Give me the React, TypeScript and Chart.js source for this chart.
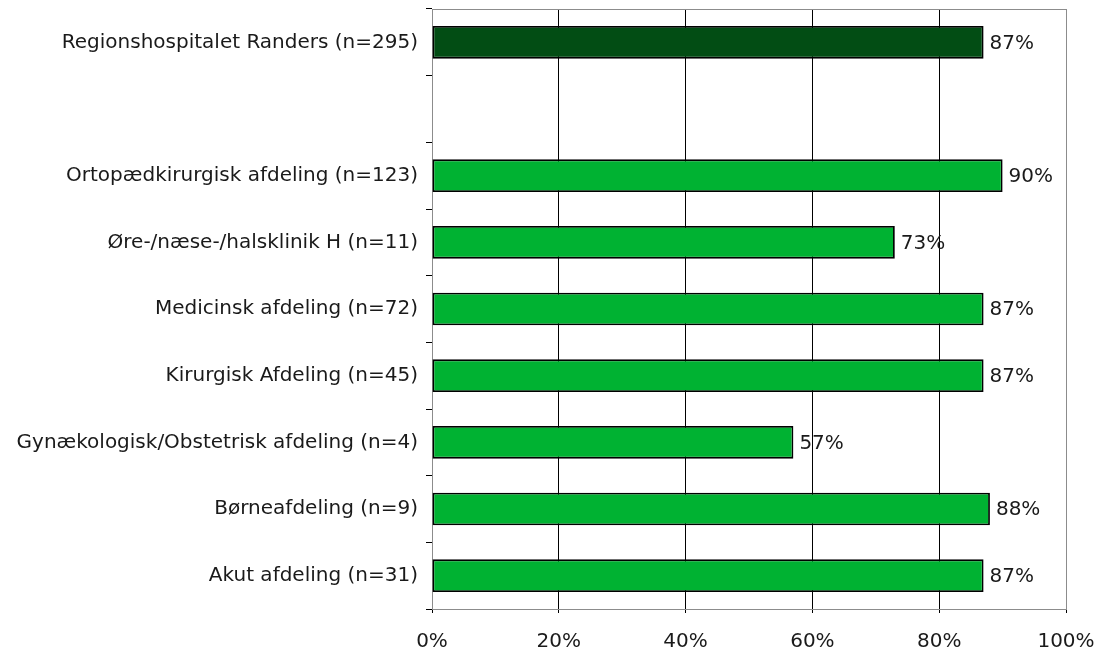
import React, { useEffect, useRef } from "react";
import { Chart, registerables } from "chart.js";

Chart.register(...registerables);

const categories = [
  "Regionshospitalet Randers (n=295)",
  "",
  "Ortopædkirurgisk afdeling (n=123)",
  "Øre-/næse-/halsklinik H (n=11)",
  "Medicinsk afdeling (n=72)",
  "Kirurgisk Afdeling (n=45)",
  "Gynækologisk/Obstetrisk afdeling (n=4)",
  "Børneafdeling (n=9)",
  "Akut afdeling (n=31)",
];
const values: (number | null)[] = [87, null, 90, 73, 87, 87, 57, 88, 87];
const valueLabels = ["87%", "", "90%", "73%", "87%", "87%", "57%", "88%", "87%"];
const barColors = ["#024d14", "", "#00b232", "#00b232", "#00b232", "#00b232", "#00b232", "#00b232", "#00b232"];
const xTicks = [0, 20, 40, 60, 80, 100];

const FONT = "'DejaVu Sans', sans-serif";
const FS = 20;

export default function App() {
  const ref = useRef<HTMLCanvasElement | null>(null);
  useEffect(() => {
    if (!ref.current) return;
    const frame = {
      id: "frame",
      beforeDatasetsDraw(chart: any) {
        const { ctx, chartArea: a } = chart;
        ctx.save();
        ctx.strokeStyle = "#8c8c8c";
        ctx.lineWidth = 1;
        ctx.strokeRect(a.left + 0.5, a.top + 0.5, a.right - a.left, a.bottom - a.top);
        ctx.restore();
      },
    };
    const labels = {
      id: "vlabels",
      afterDatasetsDraw(chart: any) {
        const { ctx } = chart;
        const meta = chart.getDatasetMeta(0);
        ctx.save();
        ctx.font = `${FS}px ${FONT}`;
        ctx.fillStyle = "#1a1a1a";
        ctx.textBaseline = "middle";
        ctx.textAlign = "left";
        meta.data.forEach((el: any, i: number) => {
          if (values[i] == null) return;
          ctx.fillText(valueLabels[i], el.x + 6, el.y + 1);
        });
        ctx.restore();
      },
    };
    const chart = new Chart(ref.current, {
      type: "bar",
      data: {
        labels: categories,
        datasets: [
          {
            data: values,
            backgroundColor: barColors,
            borderColor: "#000000",
            borderWidth: 1.8,
            borderSkipped: false,
            categoryPercentage: 1,
            barPercentage: 0.49,
          },
        ],
      },
      options: {
        indexAxis: "y",
        animation: false,
        responsive: false,
        maintainAspectRatio: false,
        layout: { padding: { top: 9, right: 31, left: 0, bottom: 0 } },
        plugins: { legend: { display: false }, tooltip: { enabled: false } },
        scales: {
          x: {
            min: 0,
            max: 100,
            afterBuildTicks: (s: any) => {
              s.ticks = xTicks.map((v) => ({ value: v }));
            },
            ticks: {
              callback: (v: any) => v + "%",
              font: { family: FONT, size: FS },
              color: "#1a1a1a",
              padding: 17,
            },
            grid: { color: "#000000", lineWidth: 1, tickLength: 4, drawTicks: true },
            border: { color: "#000000", width: 1 },
            afterFit: (s: any) => {
              s.height = 48;
              s.paddingLeft = 0;
              s.paddingRight = 0;
            },
          },
          y: {
            offset: true,
            ticks: {
              font: { family: FONT, size: FS },
              color: "#1a1a1a",
              padding: 8,
            },
            grid: { offset: true, drawOnChartArea: false, color: "#000000", tickLength: 6 },
            border: { color: "#555555", width: 1 },
            afterFit: (s: any) => {
              s.width = 432;
              s.paddingTop = 0;
              s.paddingBottom = 0;
            },
          },
        },
      },
      plugins: [frame, labels],
    } as any);
    return () => chart.destroy();
  }, []);
  return (
    <div style={{ position: "fixed", left: 0, top: 0, width: 1097, height: 657, background: "#fff" }}>
      <canvas ref={ref} width={1097} height={657} />
    </div>
  );
}
